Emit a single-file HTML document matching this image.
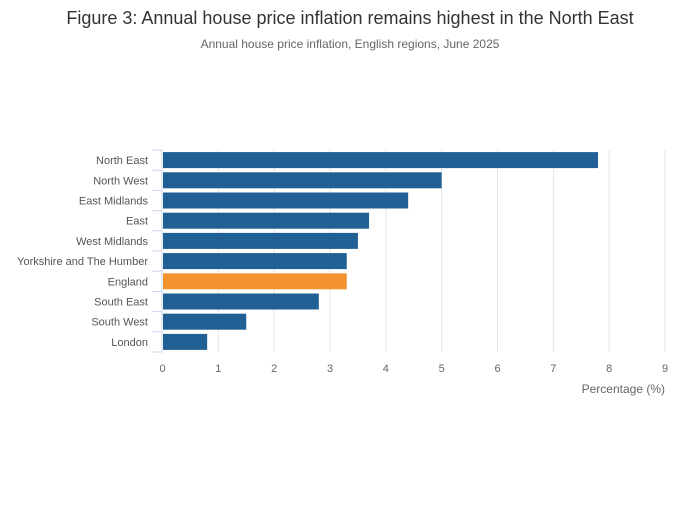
<!DOCTYPE html>
<html><head><meta charset="utf-8"><style>
body{margin:0;background:#fff;font-family:"Liberation Sans",sans-serif}
svg text{font-family:"Liberation Sans",sans-serif}
</style></head><body>
<svg width="700" height="502" id="c">
<text x="350" y="24" text-anchor="middle" font-size="18" fill="#333">Figure 3: Annual house price inflation remains highest in the North East</text>
<text x="350" y="48" text-anchor="middle" font-size="12" fill="#666">Annual house price inflation, English regions, June 2025</text>
<text x="665" y="393" text-anchor="end" font-size="12" fill="#666">Percentage (%)</text>
</svg>
<script>
const categories=["North East","North West","East Midlands","East","West Midlands","Yorkshire and The Humber","England","South East","South West","London"];
const values=[7.8,5.0,4.4,3.7,3.5,3.3,3.3,2.8,1.5,0.8];
const ticks=[0,1,2,3,4,5,6,7,8,9];
const svg=document.getElementById('c');const NS="http://www.w3.org/2000/svg";
const x0=162.5,x1=665,yTop=150,yBot=352,xmax=9;
const xs=v=>x0+v/xmax*(x1-x0);
const step=(yBot-yTop)/categories.length;
function mk(t,a){const e=document.createElementNS(NS,t);for(const k in a)e.setAttribute(k,a[k]);svg.appendChild(e);return e;}
ticks.forEach(t=>{
 if(t>0){const g=mk('line',{x1:xs(t),x2:xs(t),y1:yTop,y2:yBot,stroke:'#e6e6e6','stroke-width':1});
 
 }
 const l=mk('text',{x:xs(t),y:372,'text-anchor':'middle','font-size':11,fill:'#666'});l.textContent=t;
 
 
});
const ax=mk('line',{x1:x0-0.5,x2:x0-0.5,y1:yTop,y2:yBot,stroke:'#ccd6eb'});


for(let i=0;i<=categories.length;i++){const y=yTop+i*step;const t=mk('line',{x1:x0-10,x2:x0,y1:y,y2:y,stroke:'#ccd6eb'});
 
 }
categories.forEach((c,i)=>{
 const yc=yTop+(i+0.5)*step;
 const b=mk('rect',{x:x0+0.5,y:yc-8,width:xs(values[i])-x0-0.5,height:16,fill:c==='England'?'#f39431':'#206095'});
 
 
 const l=mk('text',{x:148,y:yc+4,'text-anchor':'end','font-size':11,fill:'#555'});l.textContent=c;
 
 
});
</script>
</body></html>
